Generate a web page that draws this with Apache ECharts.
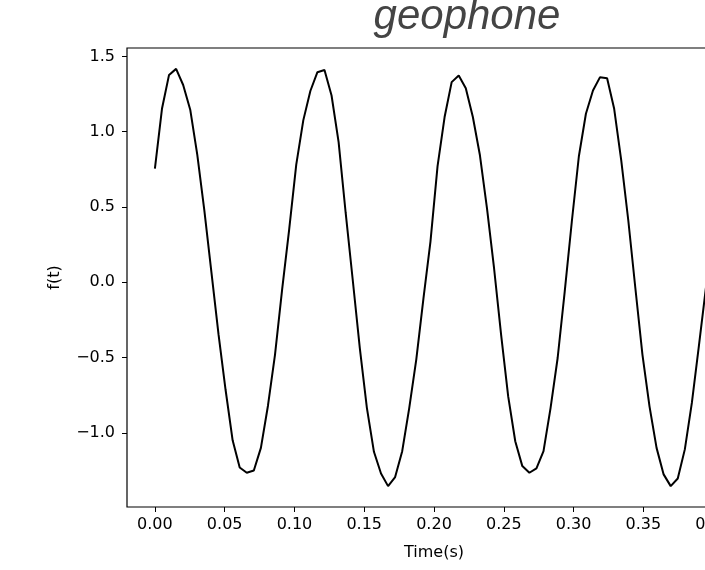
<!DOCTYPE html>
<html>
<head>
<meta charset="utf-8">
<script src="https://cdn.jsdelivr.net/npm/echarts@6/dist/echarts.min.js"></script>
<style>
  html, body { margin: 0; padding: 0; background: #fff; overflow: hidden; }
  /* the original figure is wider than the window; only its left part shows */
  #chart { width: 760px; height: 570px; }
</style>
</head>
<body>
<div id="chart"></div>
<script>
// geophone trace, 80 samples between 0 and 0.4 s
const tStart = 0
const tEnd = 0.4
const signal = [
  0.755, 1.152, 1.377, 1.417, 1.31, 1.146, 0.846, 0.475, 0.065, -0.345,
  -0.714, -1.05, -1.23, -1.265, -1.25, -1.10, -0.82, -0.48, -0.05, 0.35,
  0.78, 1.075, 1.27, 1.395, 1.41, 1.24, 0.93, 0.46, 0.015, -0.437,
  -0.834, -1.126, -1.27, -1.354, -1.294, -1.122, -0.834, -0.51, -0.11, 0.27,
  0.77, 1.097, 1.329, 1.373, 1.289, 1.097, 0.843, 0.49, 0.093, -0.349,
  -0.758, -1.056, -1.221, -1.265, -1.236, -1.122, -0.834, -0.503, -0.062, 0.40,
  0.835, 1.119, 1.273, 1.362, 1.355, 1.152, 0.81, 0.41, -0.04, -0.48,
  -0.824, -1.10, -1.276, -1.354, -1.303, -1.11, -0.80, -0.42, -0.03, 0.36
]
const xTicks = [0, 0.05, 0.1, 0.15, 0.2, 0.25, 0.3, 0.35, 0.4]
const yTicks = [-1.0, -0.5, 0.0, 0.5, 1.0, 1.5]

const time = []
for (let i = 0; i < signal.length; i++) {
  time.push(tStart + (tEnd - tStart) * i / (signal.length - 1))
}
const points = signal.map((v, i) => [time[i], v])

const chart = echarts.init(document.getElementById('chart'))
const labelFont = 'DejaVu Sans'

chart.setOption({
  backgroundColor: '#fff',
  animation: false,
  title: {
    text: 'geophone',
    left: 462,
    top: -9,
    textAlign: 'center',
    textStyle: {
      fontFamily: 'Liberation Sans',
      fontStyle: 'italic',
      fontWeight: 'normal',
      fontSize: 42,
      color: '#444'
    }
  },
  grid: {
    left: 127,
    top: 48,
    right: 19,
    bottom: 63,
    show: true,
    borderColor: '#000',
    borderWidth: 1.2,
    backgroundColor: '#fff'
  },
  xAxis: {
    type: 'value',
    min: -0.02,
    max: 0.42,
    name: 'Time(s)',
    nameLocation: 'middle',
    nameGap: 38,
    nameTextStyle: { fontFamily: labelFont, fontSize: 16, color: '#000' },
    axisLine: { show: false, onZero: false },
    splitLine: { show: false },
    axisTick: {
      show: true,
      length: 5,
      customValues: xTicks,
      lineStyle: { color: '#000', width: 1 }
    },
    axisLabel: {
      customValues: xTicks,
      formatter: v => v.toFixed(2),
      fontFamily: labelFont,
      fontSize: 16,
      color: '#000',
      margin: 10
    }
  },
  yAxis: {
    type: 'value',
    min: -1.4926,
    max: 1.5556,
    name: 'f(t)',
    nameLocation: 'middle',
    nameGap: 64,
    nameTextStyle: { fontFamily: labelFont, fontSize: 16, color: '#000' },
    axisLine: { show: false, onZero: false },
    splitLine: { show: false },
    axisTick: {
      show: true,
      length: 5,
      customValues: yTicks,
      lineStyle: { color: '#000', width: 1 }
    },
    axisLabel: {
      customValues: yTicks,
      formatter: v => v.toFixed(1).replace('-', '\u2212'),
      fontFamily: labelFont,
      fontSize: 16,
      color: '#000',
      margin: 12
    }
  },
  series: [{
    type: 'line',
    data: points,
    showSymbol: false,
    symbol: 'none',
    lineStyle: { color: '#000', width: 2 },
    clip: true
  }]
})
</script>
</body>
</html>
